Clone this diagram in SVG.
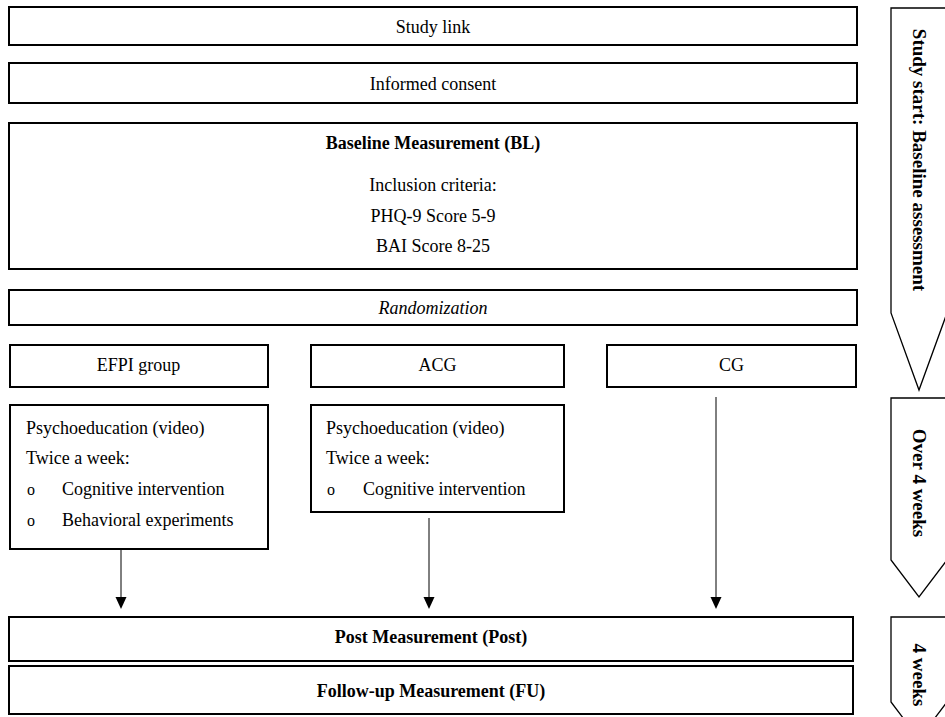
<svg xmlns="http://www.w3.org/2000/svg" width="945" height="717" viewBox="0 0 945 717">
<defs>
<style>
.box{fill:#fff;stroke:#000;stroke-width:2}
.side{fill:#fff;stroke:#000;stroke-width:1.3}
text{font-family:"Liberation Serif","Times New Roman",serif;font-size:18px;fill:#000}
.c{text-anchor:middle}
.b{font-weight:bold}
.i{font-style:italic}
.o{font-size:16px}
.v{font-weight:bold;text-anchor:middle;dominant-baseline:central;font-size:19px}
.ln{stroke:#000;stroke-width:1;fill:none}
</style>
</defs>
<rect width="945" height="717" fill="#fff"/>

<g id="study-link"><rect class="box" x="9" y="7" width="848" height="38"/><text class="c" x="433" y="33">Study link</text></g>
<g id="informed-consent"><rect class="box" x="9" y="63" width="848" height="40"/><text class="c" x="433" y="90">Informed consent</text></g>
<g id="baseline"><rect class="box" x="9" y="123" width="848" height="146"/>
<text class="c b" x="433" y="149">Baseline Measurement (BL)</text>
<text class="c" x="433" y="191">Inclusion criteria:</text>
<text class="c" x="433" y="222">PHQ-9 Score 5-9</text>
<text class="c" x="433" y="252">BAI Score 8-25</text></g>
<g id="randomization"><rect class="box" x="9" y="290" width="848" height="35"/><text class="c i" x="433" y="314">Randomization</text></g>

<g id="efpi-group"><rect class="box" x="10" y="345" width="258" height="42"/><text class="c" x="138.5" y="371">EFPI group</text></g>
<g id="acg"><rect class="box" x="311" y="345" width="253" height="42"/><text class="c" x="437.5" y="371">ACG</text></g>
<g id="cg"><rect class="box" x="607" y="345" width="249" height="42"/><text class="c" x="731.5" y="371">CG</text></g>

<g id="efpi-content"><rect class="box" x="10" y="405" width="258" height="144"/>
<text x="26" y="434">Psychoeducation (video)</text>
<text x="26" y="464">Twice a week:</text>
<text class="o" x="27" y="495">o</text><text x="62" y="495">Cognitive intervention</text>
<text class="o" x="27" y="526">o</text><text x="62" y="526">Behavioral experiments</text></g>
<g id="acg-content"><rect class="box" x="311" y="405" width="253" height="107"/>
<text x="326" y="434">Psychoeducation (video)</text>
<text x="326" y="464">Twice a week:</text>
<text class="o" x="327" y="495">o</text><text x="363" y="495">Cognitive intervention</text></g>

<g id="post"><rect class="box" x="9" y="617" width="844" height="44"/><text class="c b" x="431" y="643">Post Measurement (Post)</text></g>
<g id="fu"><rect class="box" x="9" y="666" width="844" height="48"/><text class="c b" x="431" y="697">Follow-up Measurement (FU)</text></g>

<g id="connectors">
<line class="ln" x1="121" y1="549" x2="121" y2="599"/>
<path d="M115.5,597 L126.5,597 L121,609 Z"/>
<line class="ln" x1="429" y1="518" x2="429" y2="599"/>
<path d="M423.5,597 L434.5,597 L429,609 Z"/>
<line class="ln" x1="716" y1="397" x2="716" y2="599"/>
<path d="M710.5,597 L721.5,597 L716,609 Z"/>
</g>

<g id="phase-baseline"><path class="side" d="M891,8 L947,8 L947,313 L919,390 L891,313 Z"/>
<text class="v" transform="translate(919,160) rotate(90)">Study start: Baseline assessment</text></g>
<g id="phase-intervention"><path class="side" d="M891,398 L947,398 L947,560 L919,597 L891,560 Z"/>
<text class="v" transform="translate(919,483) rotate(90)">Over 4 weeks</text></g>
<g id="phase-followup"><path class="side" d="M891,617 L947,617 L947,702 L919,739 L891,702 Z"/>
<text class="v" transform="translate(919,675) rotate(90)">4 weeks</text></g>
</svg>
